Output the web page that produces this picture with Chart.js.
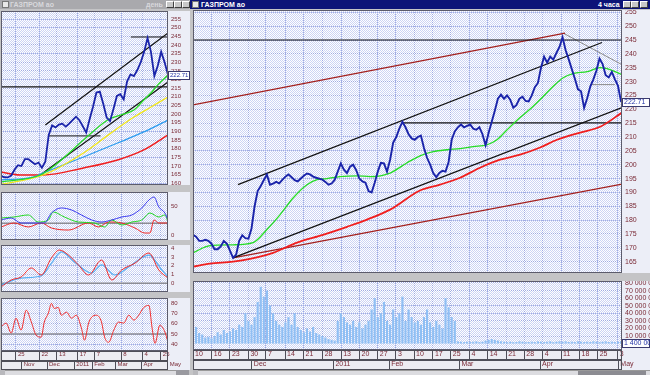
<!DOCTYPE html>
<html><head><meta charset="utf-8"><title>ГАЗПРОМ ао</title>
<script src="https://cdn.jsdelivr.net/npm/chart.js@4.4.1/dist/chart.umd.min.js"></script>
<style>
html,body{margin:0;padding:0}
body{position:relative;width:650px;height:375px;overflow:hidden;background:#c4c4c6;font-family:"Liberation Sans",Arial,sans-serif}
.a{position:absolute}
canvas{position:absolute;display:block;background:#eceef7}
.t{font-size:7px;line-height:9px;font-weight:bold;white-space:nowrap}
.btn{position:absolute;top:1px;width:6px;height:5px;background:#c8c8c8;border:1px solid;border-color:#fff #404040 #404040 #fff}
</style></head><body>
<!-- left window chrome -->
<div class="a" style="left:0;top:0;width:189px;height:9px;background:#a9a9ad"></div>
<div class="a" style="left:2px;top:1px;width:5px;height:5px;background:#e8e8e8;border:1px solid #777"></div>
<div class="a t" style="left:10px;top:0;color:#d8d8dc">ГАЗПРОМ ао</div>
<div class="a t" style="left:146px;top:0;color:#d8d8dc">день</div>
<div class="btn" style="left:166px"></div><div class="btn" style="left:174px"></div><div class="btn" style="left:182px"></div>
<!-- right window chrome -->
<div class="a" style="left:190px;top:0;width:460px;height:9px;background:#0c1478"></div>
<div class="a" style="left:192px;top:1px;width:5px;height:5px;background:#e8e8e8;border:1px solid #777"></div>
<div class="a t" style="left:201px;top:0;color:#ffffff">ГАЗПРОМ ао</div>
<div class="a t" style="left:598px;top:0;color:#ffffff">4 часа</div>
<div class="btn" style="left:623px"></div><div class="btn" style="left:631px"></div><div class="btn" style="left:640px"></div>

<canvas id="lm" width="189" height="174" style="left:1px;top:11px"></canvas>
<canvas id="l1" width="189" height="48" style="left:1px;top:192px"></canvas>
<canvas id="l2" width="189" height="47" style="left:1px;top:245px"></canvas>
<canvas id="l3" width="189" height="72" style="left:1px;top:298px"></canvas>
<canvas id="rm" width="457" height="263" style="left:193px;top:10px"></canvas>
<canvas id="rv" width="457" height="89" style="left:193px;top:281px"></canvas>

<!-- scrollbars -->
<div class="a" style="left:0;top:370px;width:189px;height:5px;background:#dcdce0;border-top:1px solid #999"></div>
<div class="a" style="left:0;top:370px;width:5px;height:5px;background:#b8b8bc"></div>
<div class="a" style="left:176px;top:370px;width:13px;height:5px;background:#9a9aa0"></div>
<div class="a" style="left:193px;top:370px;width:457px;height:5px;background:#dcdce0;border-top:1px solid #999"></div>
<div class="a" style="left:193px;top:370px;width:5px;height:5px;background:#b8b8bc"></div>
<div class="a" style="left:578px;top:371px;width:68px;height:4px;background:#8c8c92"></div>

<script>
// ---------- DATA ----------
// right window (4-hour bars), x index unit = 1/6 week
const X_MAX_R = 139.3;
const priceR = [
 174.7,174,172.5,172.5,172.9,172.5,171.5,169.5,169.5,170.5,
 172.5,171.5,169,166.4,167.5,172.5,174.5,173.5,173.3,177,
 185,190.5,192.3,194.5,196.4,192.8,193.2,193.8,193.3,194.5,
 195.7,196.5,195.5,194.4,194,195,196,196.8,196.5,195.7,
 195.3,195,194.6,193.8,192.8,193.2,194.5,197.5,200.5,198.2,
 197,199.3,200,198,195,194,193.5,190.5,190,193.5,
 197.5,200.7,200.5,197.5,201.8,208,210,213,215.5,213.5,
 211,209.5,209,210,210.5,206,202.5,200,197,195.5,
 197,197.8,197.5,201,209,212,213.5,214.5,213.5,214,
 214.5,213,212.6,213.5,211,207,211.5,215.5,219.5,223.8,
 225.3,223.8,225,223.5,220.6,221.5,223.8,224.5,223,222.8,
 225,228,229.5,235,239,236.8,239,237.9,240.3,242.5,
 246,241.3,238,234.5,231,227.2,226.5,220.5,224,228.2,
 230.8,234,238.3,236.3,232.3,231.5,233.5,230.8,228.5,222.7];
const lastPriceText = '222.71';
const greenIdx = [0,5.5,13,19.5,24,28.3,32.5,37,40.3,43.5,47.7,53.3,57.5,64,69.5,73.7,78,82.5,86.7,91,95.5,98.7,102,106.2,110.4,113.7,116.9,120.2,123.4,128,132.2,135.4,139.3];
const greenVal = [168.2,170.8,171.1,171.9,176.6,182,188,192.8,194.6,195,195.7,196,195.7,197,200.7,203.2,204.7,205.4,205.8,206.5,207.2,209,212.6,217,221,224.6,228.2,231.4,232.9,233.6,235,234.3,232.5];
const redIdx = [0,5.5,13,18.5,26,33.8,42.2,50,56.5,64,73.7,80.2,86.7,93.2,99.7,106.2,112.7,118.2,125.7,132.2,139.3];
const redVal = [163.2,164.3,165,166,168.2,171.9,174.7,177.6,180.2,183.8,190.7,192.8,195.3,198.9,201.8,203.6,206.2,209,211.6,213.7,218.8];
const trendUpperR = [[14.6,192.8],[132.8,244.1]];
const trendLowerR = [[13,166.4],[139.3,220.6]];
const level245R = [[0,245],[139.3,245]];
const level215R = [[68,215.1],[139.3,215.1]];
const darkUpperR = [[0,221.6],[120.8,247.5]];
const darkLowerR = [[13,166.4],[139.3,193.0]];
const greyDownR = [[120.2,247.5],[139.3,236.1]];
const level229R = [[128.9,228.9],[137,228.9]];
const volR = [
 18,22,14,12,8,9,7,10,15,12,
 18,14,16,20,18,25,22,40,30,25,
 35,55,75,62,70,50,40,30,25,22,
 28,35,25,40,22,18,15,20,16,22,
 14,12,10,8,6,5,4,30,40,35,
 28,25,30,22,28,20,25,30,45,60,
 35,40,55,30,25,45,35,40,62,30,
 45,35,28,30,25,35,45,28,22,30,
 25,20,60,48,35,30,3,2.5,2,2.5,
 2,2.5,3,2,2.5,4,5,6,5,4,
 3,2.5,2,2.5,2,2,3,2.5,2,2,
 2.5,2,3,2.5,2,2.5,3,2,2.5,3,
 2.5,3,2,2.5,2,3,2.5,2,2.5,2,
 3,2.5,2,2.5,3,2,2.5,2,2.5,3];
const volLast = 1.4, volLastText = '1 400 000';
const priceTicksR = [165,170,175,180,185,190,195,200,205,210,215,220,225,230,235,240,245,250,255];
const volTicks = [10,20,30,40,50,60,70,80];
const volTickLabels = ['10 000 000','20 000 000','30 000 000','40 000 000','50 000 000','60 000 000','70 000 000','80 000 000'];
const weekTicksR = [0,6.1,12,18,23.7,29.9,35.9,42.1,48.1,54.1,60,65.9,71.8,77.9,83.7,89.8,95.7,101.7,107.6,113.6,119.5,125.5,131.4,137.9];
const weekLabelsR = ['10','16','23','30','7','14','21','28','13','20','27','3','10','17','25','4','14','21','28','4','11','18','25','3'];
const monthTicksR = [0,19.1,45.6,63.7,86.5,112.7,138.1];
const monthLabelsR = ['','Dec','2011','Feb','Mar','Apr','May'];

// left window (daily)
const X_MAX_L = 49;
const priceL = [164.4,163.5,163.4,164.5,168,170.5,170,174,174,172.5,
 171,172,169,172.5,188,193.5,192.3,194,194.5,192.8,
 194.5,196.5,198.5,196.5,193,189.3,197,204.3,212.5,213,
 206,198,196,203,210.5,211.5,208.5,219,223,222,
 225.5,230,236,244,236,222,228,236,230,222.7];
const lGreenIdx = [0,11.5,15.9,24.2,31.3,35.1,39,41.9,44,46,49];
const lGreenVal = [160.8,164.8,170.6,185,196.6,199.5,202.4,208.2,212.2,216.9,222.6];
const lYellowIdx = [0,12.4,24.2,32.2,39,44,49];
const lYellowVal = [159.3,164.8,177.5,189,198.3,204.1,209.9];
const lBlueIdx = [0,9.4,12.4,24.2,34.2,41.9,49];
const lBlueVal = [162,163.6,166,175.2,183.3,189.7,196.6];
const lRedIdx = [0,5.6,12.4,24.2,34.2,41.9,49];
const lRedVal = [166.5,164.8,164.8,168.9,173.5,179.3,188];
const trendUpperL = [[13,193.7],[49,246.9]];
const trendLowerL = [[11.5,164.8],[49,218.6]];
const level216L = [[0,215.7],[49,215.7]];
const level187L = [[13.9,187.4],[29.2,187.4]];
const level245L = [[38.1,244.6],[49,244.6]];
const priceTicksL = [160,165,170,175,180,185,190,195,200,205,210,215,220,225,230,235,240,245,250,255];
// pane 1
const p1BlueIdx = [0,3,5.9,9.7,12.7,14.8,17.7,20.7,23.6,26.6,29.5,32.5,35.4,38.4,41.3,43.4,44.9,46.3,48.1,49];
const p1BlueVal = [25.9,29.3,20.7,20.7,20.7,37.9,46.6,43.1,34.5,25.9,22.4,25.9,31,34.5,46.6,60.3,65.5,48.3,37.9,25.9];
const p1GreenIdx = [0,3.8,8,10.9,13.9,15.3,18.6,22.7,27.4,30.4,32.5,35.4,38.4,41.3,43.7,46.3,48.1,49];
const p1GreenVal = [29.3,31,34.5,22.4,25.9,39.7,31,22.4,20.7,13.8,25.9,17.2,22.4,25.9,37.9,31,34.5,22.4];
const p1RedIdx = [0,3.8,8,11.8,14.8,19.8,25.7,28.6,31.6,35.4,39.3,42.2,43.7,44.9,46.3,49];
const p1RedVal = [13.8,20.7,13.8,20.7,12.1,8.6,20.7,13.8,22.4,20.7,12.1,3.4,3.4,25.9,20.7,20.7];
const p1Level = [[0,20.2],[49,20.2]];
const p1Ticks = [0,50];
// pane 2
const p2RedIdx = [0,3,5.9,8.9,11.8,14.8,17.1,19.8,22.7,25.7,29.5,32.5,35.4,39.3,43.4,46.3,49];
const p2RedVal = [-0.42,0.38,0.72,1.75,0.95,2.9,3.8,3.23,2.1,0.95,2.66,0.38,1.52,2.3,3.46,1.52,0.6];
const p2BlueIdx = [0,5.9,11.8,14.8,17.7,21.5,26.6,29.5,33.4,37.5,43.4,47.2,49];
const p2BlueVal = [-0.2,0.6,0.83,2.3,3.58,2.43,1.18,2.1,0.95,1.86,3.23,1.52,0.72];
const p2Level = [[0,0],[49,0]];
const p2Ticks = [0,1,2,3,4];
// pane 3
const p3Idx = [0,1.5,3,4.4,5.9,7.4,8.9,10.3,11.8,12.7,13.9,14.8,15.6,16.8,17.7,19.2,20.7,22.1,23.6,24.5,25.7,26.6,28,29.5,30.4,31.6,33.1,34.5,36,37.5,39,40.4,41.9,43.4,44.3,45.2,46.6,48.1,49];
const p3Val = [56.8,60.7,51,65.5,53.9,73.3,61.7,49,47,61.7,70.4,80,75,76,68.4,71.4,65.5,68.4,55.8,44,60.7,66.5,68.4,61.7,47,42,53.9,61.7,60.7,68.4,63.6,68.4,76,78,56.8,41,58.7,52,42];
const p3Level = [[0,50],[49,50]];
const p3Ticks = [40,50,60,70,80];
const weekTicksL = [0,4.4,11.3,16.4,22.5,27.5,35.3,41.5,46.9];
const weekLabelsL = ['','25','22','13','17','7','8','4','25'];
const monthTicksL = [0,6.1,13.5,21.5,26.8,33.6,41.2,48.9];
const monthLabelsL = ['','Nov','Dec','2011','Feb','Mar','Apr','May'];

// ---------- STYLE ----------
const GRID = '#9fabe2', TXT = '#7a2a36';
const C = {price:'#1a24aa', green:'#26dc26', red:'#f01e1e', black:'#121212', dark:'#a3201e', grey:'#8a8a8a',
  yellow:'#f2e619', lblue:'#2c9cf0', vol:'#8fbff4'};
Chart.defaults.font.family = "'Liberation Sans', Arial, sans-serif";
Chart.defaults.plugins.legend.display = false;
Chart.defaults.plugins.tooltip.enabled = false;

const patCanvas = document.createElement('canvas'); patCanvas.width = 2; patCanvas.height = 2;
{ const g = patCanvas.getContext('2d'); g.fillStyle = '#ffffff'; g.fillRect(0,0,2,2);
  g.fillStyle = '#ccd4f4'; g.fillRect(1,0,1,1); g.fillRect(0,1,1,1); }

const bgPlugin = {id:'bg', beforeDraw(chart){ const {ctx, chartArea:a} = chart; ctx.save();
  ctx.fillStyle = ctx.createPattern(patCanvas,'repeat'); ctx.fillRect(a.left,a.top,a.right-a.left,a.bottom-a.top); ctx.restore(); }};
const framePlugin = {id:'frame', afterDraw(chart){ const {ctx, chartArea:a} = chart; ctx.save();
  ctx.strokeStyle = '#5c5c6c'; ctx.lineWidth = 1; ctx.strokeRect(a.left+0.5,a.top+0.5,a.right-a.left-1,a.bottom-a.top-1); ctx.restore(); }};
const boxPlugin = {id:'valueBox', afterDraw(chart, args, o){ if (!o || o.value == null) return;
  const ctx = chart.ctx, a = chart.chartArea, y = Math.round(chart.scales.y.getPixelForValue(o.value));
  ctx.save(); ctx.fillStyle = '#ffffff'; ctx.fillRect(a.right, y-4, o.width, 9);
  ctx.strokeStyle = '#3a3a70'; ctx.lineWidth = 1; ctx.strokeRect(a.right+0.5, y-3.5, o.width-1, 8);
  ctx.fillStyle = '#2434a8'; ctx.font = o.size + "px 'Liberation Sans', Arial"; ctx.textBaseline = 'middle';
  ctx.fillText(o.text, a.right+2, y+0.5); ctx.restore(); }};
const rowsPlugin = {id:'rows',
  beforeDraw(chart, args, o){ if (!o || !o.ids) return; const ctx = chart.ctx, a = chart.chartArea; ctx.save(); ctx.fillStyle = '#ececf2';
    o.ids.forEach(id => { const s = chart.scales[id]; ctx.fillRect(a.left, s.top, a.right-a.left, s.bottom-s.top); }); ctx.restore(); },
  afterDraw(chart, args, o){ if (!o || !o.ids) return; const ctx = chart.ctx, a = chart.chartArea; ctx.save(); ctx.strokeStyle = '#4e4e58'; ctx.lineWidth = 1;
    o.ids.forEach(id => { const s = chart.scales[id]; ctx.strokeRect(a.left+0.5, s.top+0.5, a.right-a.left-1, s.bottom-s.top-1); }); ctx.restore(); }};

const seq = arr => arr.map((v,i) => ({x:i, y:v}));
const pts = (xs, ys) => ys.map((v,i) => ({x:xs[i], y:v}));
const pairs = arr => arr.map(p => ({x:p[0], y:p[1]}));
const line = (data, color, w, tension) => ({type:'line', data, borderColor:color, borderWidth:w, pointRadius:0, fill:false,
  tension: tension || 0, cubicInterpolationMode: tension ? 'monotone' : 'default'});

function hiddenX(max, ticks){ return {type:'linear', min:0, max, offset:false,
  afterBuildTicks: s => { s.ticks = ticks.map(v => ({value:v})); },
  ticks:{display:false}, grid:{color:GRID, lineWidth:1, drawTicks:false, offset:false}, border:{display:false, dash:[1,1]},
  afterFit: s => { s.height = 0; s.paddingLeft = 0; s.paddingRight = 0; }}; }
function dateAxis(max, ticks, labels, weight, h, fs, onArea){ return {type:'linear', axis:'x', position:'bottom', weight, min:0, max, offset:false,
  afterBuildTicks: s => { s.ticks = ticks.map(v => ({value:v})); },
  ticks:{display:true, autoSkip:false, maxRotation:0, minRotation:0, align:'start', labelOffset:2, padding:-h, color:TXT, font:{size:fs},
    callback:(v,i) => labels[i]},
  grid:{display:true, offset:false, drawOnChartArea:onArea, color:GRID, lineWidth:1, drawTicks:true, tickLength:h, tickColor:'#4e4e58', tickWidth:1},
  border:{display:false, dash:[1,1]},
  afterFit: s => { s.height = h; s.paddingLeft = 0; s.paddingRight = 0; }}; }
function yAxis(min, max, ticks, width, fs, labels){ return {position:'right', min, max,
  afterBuildTicks: s => { s.ticks = ticks.map(v => ({value:v})); },
  ticks:{color:TXT, font:{size:fs}, padding:3, autoSkip:false, callback:(v,i) => labels ? labels[i] : String(v)},
  grid:{color:GRID, lineWidth:1, drawTicks:false}, border:{display:false, dash:[1,1]},
  afterFit: s => { s.width = width; s.paddingTop = 0; s.paddingBottom = 0; }}; }
const baseOpts = {responsive:false, animation:false, devicePixelRatio:1, layout:{padding:0}};

// ---------- RIGHT MAIN ----------
new Chart(document.getElementById('rm'), {type:'line',
  data:{datasets:[
    line(seq(priceR), C.price, 1.9),
    line(pts(greenIdx, greenVal), C.green, 1.3, 0.4),
    line(pts(redIdx, redVal), C.red, 1.8, 0.4),
    line(pairs(trendUpperR), C.black, 1.3), line(pairs(trendLowerR), C.black, 1.3),
    line(pairs(level245R), C.black, 1.2), line(pairs(level215R), C.black, 1.2),
    line(pairs(darkUpperR), C.dark, 1.4), line(pairs(darkLowerR), C.dark, 1.4),
    line(pairs(greyDownR), C.grey, 1), line(pairs(level229R), C.grey, 1)]},
  options:{...baseOpts, scales:{x:hiddenX(X_MAX_R, weekTicksR), y:yAxis(160.92, 255.83, priceTicksR, 28, 7)},
    plugins:{valueBox:{value:priceR[priceR.length-1], text:lastPriceText, width:28, size:7}}},
  plugins:[bgPlugin, framePlugin, boxPlugin]});

// ---------- RIGHT VOLUME ----------
new Chart(document.getElementById('rv'), {type:'bar',
  data:{datasets:[{data:seq(volR), backgroundColor:C.vol, borderWidth:0, barPercentage:0.7, categoryPercentage:1}]},
  options:{...baseOpts, scales:{
    x:dateAxis(X_MAX_R, weekTicksR, weekLabelsR, 1, 10, 7, true),
    xm:dateAxis(X_MAX_R, monthTicksR, monthLabelsR, 2, 10, 7, false),
    y:yAxis(-8.45, 82.64, volTicks, 28, 7, volTickLabels)},
    plugins:{valueBox:{value:volLast, text:volLastText, width:28, size:7}, rows:{ids:['x','xm']}}},
  plugins:[bgPlugin, rowsPlugin, framePlugin, boxPlugin]});

// ---------- LEFT MAIN ----------
new Chart(document.getElementById('lm'), {type:'line',
  data:{datasets:[
    line(seq(priceL), C.price, 1.8),
    line(pts(lGreenIdx, lGreenVal), C.green, 1.3, 0.4),
    line(pts(lYellowIdx, lYellowVal), C.yellow, 1.3, 0.4),
    line(pts(lBlueIdx, lBlueVal), C.lblue, 1.3, 0.4),
    line(pts(lRedIdx, lRedVal), C.red, 1.5, 0.4),
    line(pairs(trendUpperL), C.black, 1.2), line(pairs(trendLowerL), C.black, 1.2),
    line(pairs(level216L), C.black, 1.2), line(pairs(level187L), C.black, 1), line(pairs(level245L), C.black, 1)]},
  options:{...baseOpts, scales:{x:hiddenX(X_MAX_L, weekTicksL), y:yAxis(159.02, 259.63, priceTicksL, 22, 6)},
    plugins:{valueBox:{value:priceL[priceL.length-1], text:lastPriceText, width:22, size:6}}},
  plugins:[bgPlugin, framePlugin, boxPlugin]});

// ---------- LEFT PANES ----------
new Chart(document.getElementById('l1'), {type:'line',
  data:{datasets:[
    line(pts(p1BlueIdx, p1BlueVal), '#3a3af0', 1, 0.3),
    line(pts(p1GreenIdx, p1GreenVal), '#20d820', 1, 0.3),
    line(pts(p1RedIdx, p1RedVal), '#f02828', 1, 0.3),
    line(pairs(p1Level), '#8c8c94', 1.5)]},
  options:{...baseOpts, scales:{x:hiddenX(X_MAX_L, weekTicksL), y:yAxis(-8.6, 74.1, p1Ticks, 22, 6)}},
  plugins:[bgPlugin, framePlugin]});
new Chart(document.getElementById('l2'), {type:'line',
  data:{datasets:[
    line(pts(p2RedIdx, p2RedVal), '#f02828', 1, 0.4),
    line(pts(p2BlueIdx, p2BlueVal), '#5ab0f4', 1.2, 0.4),
    line(pairs(p2Level), '#8c8c94', 1.5)]},
  options:{...baseOpts, scales:{x:hiddenX(X_MAX_L, weekTicksL), y:yAxis(-0.994, 4.377, p2Ticks, 22, 6)}},
  plugins:[bgPlugin, framePlugin]});
new Chart(document.getElementById('l3'), {type:'line',
  data:{datasets:[
    line(pts(p3Idx, p3Val), '#f03030', 1, 0.2),
    line(pairs(p3Level), '#8c8c94', 1.5)]},
  options:{...baseOpts, scales:{
    x:dateAxis(X_MAX_L, weekTicksL, weekLabelsL, 1, 10, 6, true),
    xm:dateAxis(X_MAX_L, monthTicksL, monthLabelsL, 2, 9, 6, false),
    y:yAxis(33.5, 85.2, p3Ticks, 22, 6)},
    plugins:{rows:{ids:['x','xm']}}},
  plugins:[bgPlugin, rowsPlugin, framePlugin]});
</script>
</body></html>
